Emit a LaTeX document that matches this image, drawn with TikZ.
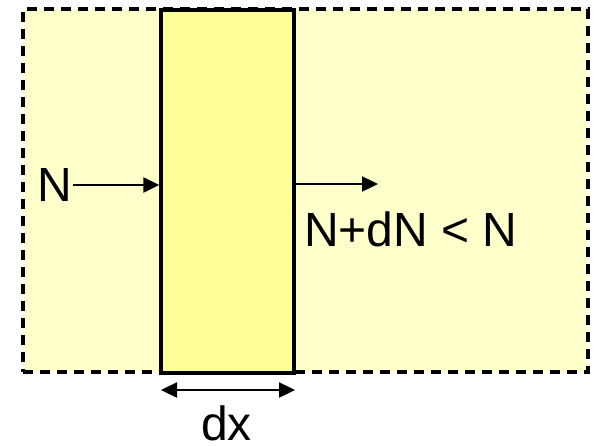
\documentclass[tikz,border=0pt]{standalone}
\usepackage{fontspec}
\setmainfont{Liberation Sans}
\usetikzlibrary{arrows.meta,positioning}

\definecolor{paleyellow}{RGB}{255,255,204}
\definecolor{slabyellow}{RGB}{255,255,153}

\tikzset{
  label text/.style={inner sep=0pt, font=\fontsize{48}{56}\selectfont},
  flux/.style={-{Triangle[length=16pt,width=15pt]}, line width=2.4pt},
  gauge/.style={{Triangle[length=16pt,width=15pt]}-{Triangle[length=16pt,width=15pt]}, line width=2.4pt}
}

\begin{document}
\begin{tikzpicture}[x=1pt,y=-1pt]
	\useasboundingbox (0,0) rectangle (594,445);
	
	% Medium
	\node[draw, fill=paleyellow, line width=3.4pt, dash pattern=on 10pt off 7pt,
	      minimum width=565pt, minimum height=363pt, inner sep=0pt] (medium) at (305.5,190.5) {};
	
	% Slab
	\node[draw, fill=slabyellow, line width=3.4pt,
	      minimum width=133pt, minimum height=363pt, inner sep=0pt] (slab) at (227.5,191.5) {};
	
	% Incoming
	\node[label text] (nin) at (55,185) {N};
	\draw[flux] (nin.east) -- (nin.east -| slab.west);
	
	% Outgoing
	\coordinate (outend) at (378,184);
	\draw[flux] (outend -| slab.east) -- (outend);
	\node[label text, anchor=base] (nout) at (411,246) {N+dN < N};
	
	% Thickness
	\coordinate (dxl) at (161,390);
	\coordinate (dxr) at (295,390);
	\draw[gauge] (dxl) -- (dxr);
	\node[label text, anchor=base] (dx) at (226.5,440) {dx};
\end{tikzpicture}
\end{document}
